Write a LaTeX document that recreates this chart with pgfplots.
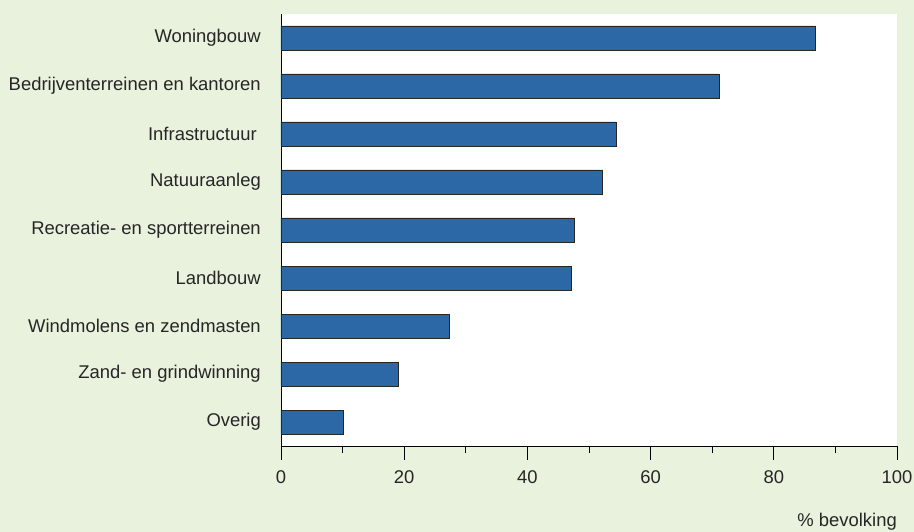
\documentclass[border=0pt]{standalone}
\usepackage{fontspec}
\setmainfont{Liberation Sans}
\usepackage{pgfplots}
\pgfplotsset{compat=1.18}
\definecolor{bg}{RGB}{232,242,221}
\definecolor{barblue}{RGB}{44,103,166}
\definecolor{txt}{RGB}{38,38,38}
\begin{document}
\begin{tikzpicture}
\fill[bg] (-281bp,-86bp) rectangle (633bp,446bp);
\begin{axis}[
  at={(0,0)}, anchor=south west,
  scale only axis, width=616bp, height=432bp,
  xbar, bar width=24bp, bar shift=0pt,
  xmin=0, xmax=100, ymin=-0.5, ymax=8.5,
  axis lines=left,
  axis line style={-, line width=0.9pt, black},
  axis background/.style={fill=white},
  font=\fontsize{18.5}{22}\selectfont,
  /pgf/number format/assume math mode=true,
  xtick={0,20,...,100},
  minor xtick={10,30,...,90},
  tick align=outside,
  major tick length=14bp,
  minor tick length=7bp,
  x tick style={black, line width=0.8pt},
  ytick={0,...,8},
  yticklabels={Overig, Zand- en grindwinning, Windmolens en zendmasten, Landbouw, Recreatie- en sportterreinen, Natuuraanleg, Infrastructuur\phantom{l}, Bedrijventerreinen en kantoren, Woningbouw},
  y tick style={draw=none},
  major y tick style={draw=none},
  yticklabel style={anchor=east, inner sep=0pt, xshift=-6bp, text=txt, font=\fontsize{18.5}{22}\selectfont},
  xticklabel style={anchor=north, inner sep=0pt, yshift=-10bp, text=txt, font=\fontsize{18.5}{22}\selectfont},
  xlabel={\% bevolking},
  xlabel style={at={(rel axis cs:1,0)}, anchor=base east, yshift=-80bp, inner sep=0pt, text=txt, font=\fontsize{18.5}{22}\selectfont},
]
\addplot[fill=barblue, draw=black!85, line width=0.8pt] coordinates {
  (10.2,0) (19.0,1) (27.4,2) (47.1,3) (47.6,4) (52.2,5) (54.4,6) (71.1,7) (86.8,8)
};
\end{axis}
\end{tikzpicture}
\end{document}
